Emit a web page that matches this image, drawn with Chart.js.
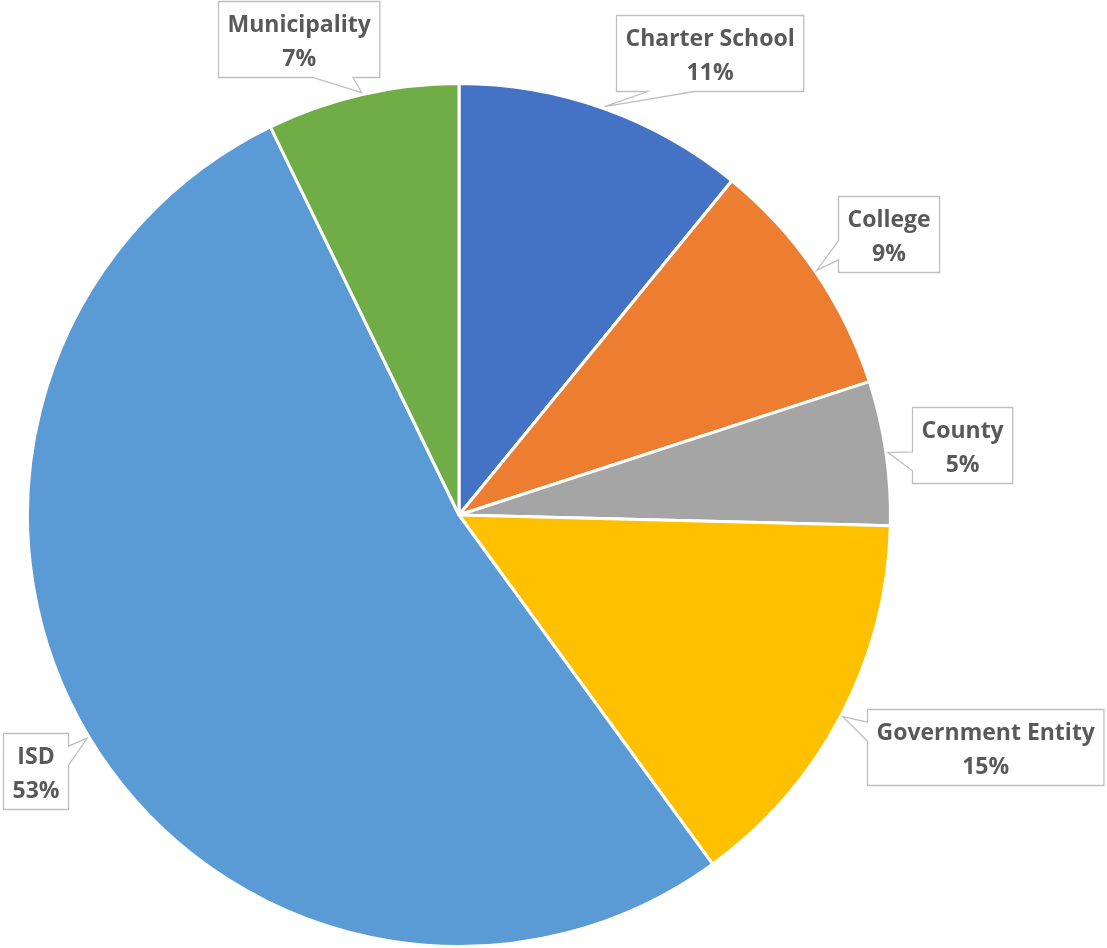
<!DOCTYPE html>
<html>
<head>
<meta charset="utf-8">
<script src="https://cdn.jsdelivr.net/npm/chart.js@4.4.0/dist/chart.umd.min.js"></script>
<style>
  html, body { margin: 0; padding: 0; background: #fff; }
  #wrap { width: 1107px; height: 948px; }
</style>
</head>
<body>
<div id="wrap"><canvas id="myChart"></canvas></div>
<script>
var categories = ['Charter School', 'College', 'County', 'Government Entity', 'ISD', 'Municipality'];
var shares = [10.9, 9.1, 5.4, 14.6, 52.8, 7.2];
var colors = ['#4472C4', '#ED7D31', '#A5A5A5', '#FFC000', '#5B9BD5', '#70AD47'];

// box centre of each callout, relative to the rim point it points at
var calloutOffsets = [[105, -54], [72, -36], [74, -8], [142, 30], [-52, 33], [-63, -54]];

// rectangle with a wedge, same rules as the office "wedgeRectCallout" shape
function calloutPath(ctx, l, t, w, h, tx, ty) {
  var cx = l + w / 2, cy = t + h / 2;
  var dx = tx - cx, dy = ty - cy;
  var dq = dx * h / w;
  var r = l + w, b = t + h;
  var x1 = l + w * (dx > 0 ? 7 : 2) / 12, x2 = l + w * (dx > 0 ? 10 : 5) / 12;
  var y1 = t + h * (dy > 0 ? 7 : 2) / 12, y2 = t + h * (dy > 0 ? 10 : 5) / 12;
  var side;
  if (Math.abs(dy) > Math.abs(dq)) side = dy > 0 ? 'bottom' : 'top';
  else side = dx > 0 ? 'right' : 'left';

  ctx.beginPath();
  ctx.moveTo(l, t);
  if (side === 'top') { ctx.lineTo(x1, t); ctx.lineTo(tx, ty); ctx.lineTo(x2, t); }
  ctx.lineTo(r, t);
  if (side === 'right') { ctx.lineTo(r, y1); ctx.lineTo(tx, ty); ctx.lineTo(r, y2); }
  ctx.lineTo(r, b);
  if (side === 'bottom') { ctx.lineTo(x2, b); ctx.lineTo(tx, ty); ctx.lineTo(x1, b); }
  ctx.lineTo(l, b);
  if (side === 'left') { ctx.lineTo(l, y2); ctx.lineTo(tx, ty); ctx.lineTo(l, y1); }
  ctx.closePath();
}

var callouts = {
  id: 'callouts',
  afterDatasetsDraw: function(chart) {
    var ctx = chart.ctx;
    var meta = chart.getDatasetMeta(0);
    var total = shares.reduce(function(a, b) { return a + b; }, 0);
    ctx.save();
    ctx.font = 'bold 23px "Open Sans"';
    ctx.textAlign = 'center';
    ctx.textBaseline = 'middle';
    meta.data.forEach(function(arc, i) {
      var p = arc.getProps(['x', 'y', 'startAngle', 'endAngle', 'outerRadius']);
      var mid = (p.startAngle + p.endAngle) / 2;
      var tx = p.x + Math.cos(mid) * (p.outerRadius + 2);
      var ty = p.y + Math.sin(mid) * (p.outerRadius + 2);
      var name = categories[i];
      var pct = Math.round(shares[i] / total * 100) + '%';
      var w = Math.max(ctx.measureText(name).width, ctx.measureText(pct).width) + 18;
      var h = 76;
      var cx = tx + calloutOffsets[i][0];
      var cy = ty + calloutOffsets[i][1];
      var l = Math.round(cx - w / 2) + 0.5, t = Math.round(cy - h / 2) + 0.5;

      calloutPath(ctx, l, t, w, h, tx, ty);
      ctx.fillStyle = '#ffffff';
      ctx.fill();
      ctx.strokeStyle = '#bfbfbf';
      ctx.lineWidth = 1.3;
      ctx.stroke();

      ctx.fillStyle = '#595959';
      ctx.fillText(name, l + w / 2, t + h / 2 - 14);
      ctx.fillText(pct, l + w / 2, t + h / 2 + 20);
    });
    ctx.restore();
  }
};

var ctx = document.getElementById('myChart').getContext('2d');
var myChart = new Chart(ctx, {
  type: 'pie',
  data: {
    labels: categories,
    datasets: [{
      data: shares,
      backgroundColor: colors,
      borderColor: '#ffffff',
      borderWidth: 3
    }]
  },
  options: {
    responsive: true,
    maintainAspectRatio: false,
    animation: false,
    layout: { padding: { left: 26, right: 215, top: 82, bottom: 0 } },
    plugins: {
      legend: { display: false },
      tooltip: { enabled: false }
    }
  },
  plugins: [callouts]
});
</script>
</body>
</html>
